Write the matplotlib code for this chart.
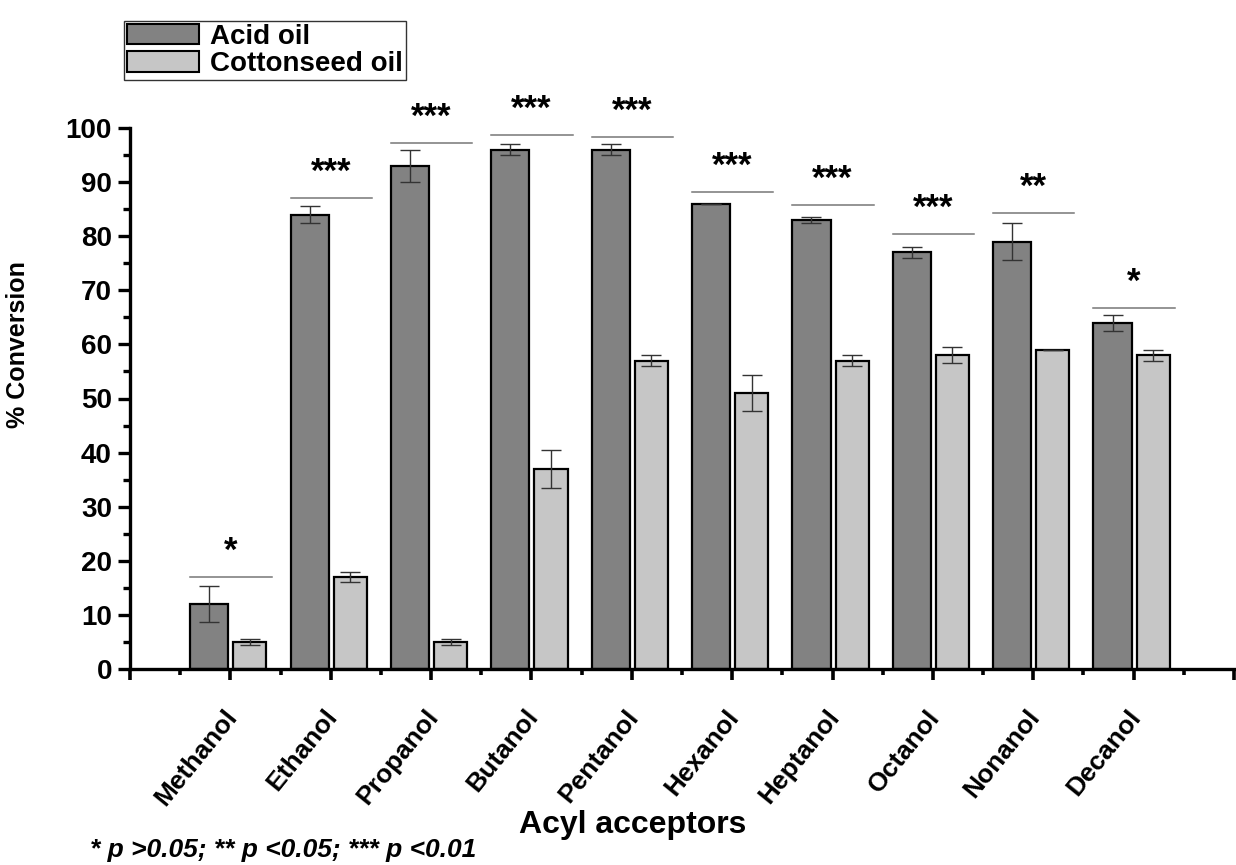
import numpy as np
import matplotlib
matplotlib.use("Agg")
import matplotlib.pyplot as plt
from matplotlib.ticker import MultipleLocator, FixedLocator
from matplotlib.transforms import ScaledTranslation
from matplotlib.patches import Patch

plt.rcParams['font.family'] = ['Liberation Sans', 'DejaVu Sans']

categories = ['Methanol', 'Ethanol', 'Propanol', 'Butanol', 'Pentanol',
              'Hexanol', 'Heptanol', 'Octanol', 'Nonanol', 'Decanol']
acid_oil = [12, 84, 93, 96, 96, 86, 83, 77, 79, 64]
acid_err = [3.4, 1.5, 3.0, 1.0, 1.0, 0, 0.5, 1.0, 3.4, 1.5]
cotton_oil = [5, 17, 5, 37, 57, 51, 57, 58, 59, 58]
cotton_err = [0.5, 1.0, 0.5, 3.5, 1.0, 3.4, 1.0, 1.5, 0, 1.0]
sig_level = [17.0, 87.0, 97.2, 98.7, 98.3, 88.2, 85.8, 80.4, 84.3, 66.7]
sig_marks = ['*', '***', '***', '***', '***', '***', '***', '***', '**', '*']
footnote = '* p >0.05; ** p <0.05; *** p <0.01'

dark = '#828282'
light = '#c6c6c6'

fig = plt.figure(figsize=(12.36, 8.65), dpi=100)
ax = fig.add_axes([130 / 1236, 1 - 669 / 865, 1104 / 1236, 541 / 865])

x = np.arange(1, len(categories) + 1)
err_kw = dict(ecolor='#333333', elinewidth=1.0, capsize=7, capthick=1.0)
ax.bar(x - 0.40, acid_oil, width=0.38, align='edge', color=dark,
       edgecolor='black', linewidth=1.6, zorder=2)
ax.bar(x + 0.03, cotton_oil, width=0.33, align='edge', color=light,
       edgecolor='black', linewidth=1.6, zorder=2)
ax.errorbar(x - 0.21, acid_oil, yerr=acid_err, fmt='none', zorder=3, **err_kw)
ax.errorbar(x + 0.195, cotton_oil, yerr=cotton_err, fmt='none', zorder=3, **err_kw)

# significance lines and stars
for xi, lvl, mark in zip(x, sig_level, sig_marks):
    ax.plot([xi - 0.40, xi + 0.41], [lvl, lvl], color='#777777', lw=1.1,
            clip_on=False, zorder=1)
    ax.text(xi, lvl + 3.0, mark, ha='center', va='baseline', fontsize=25,
            fontweight='bold', clip_on=False)

ax.set_xlim(0, 11)
ax.set_ylim(0, 100)
ax.xaxis.set_major_locator(FixedLocator(np.arange(0, 12)))
ax.xaxis.set_minor_locator(MultipleLocator(0.5))
ax.set_xticklabels([''] + categories + [''])
ax.yaxis.set_major_locator(MultipleLocator(10))
ax.yaxis.set_minor_locator(MultipleLocator(5))

for s in ['top', 'right']:
    ax.spines[s].set_visible(False)
for s in ['left', 'bottom']:
    ax.spines[s].set_linewidth(2.4)

ax.tick_params(axis='y', which='major', direction='out', length=9, width=2.4,
               labelsize=20, pad=4)
ax.tick_params(axis='y', which='minor', direction='out', length=5, width=2.4)
ax.tick_params(axis='x', which='major', direction='out', length=8, width=2.6,
               labelsize=19, pad=18)
ax.tick_params(axis='x', which='minor', direction='out', length=4, width=2.6)
for lab in ax.get_yticklabels():
    lab.set_fontweight('bold')
shift = ScaledTranslation(-7 / 100, 0, fig.dpi_scale_trans)
for lab in ax.get_xticklabels():
    lab.set_fontweight('bold')
    lab.set_rotation(51)
    lab.set_ha('right')
    lab.set_va('top')
    lab.set_rotation_mode('anchor')
    lab.set_transform(lab.get_transform() + shift)

ax.set_xlabel('Acyl acceptors', fontsize=23, fontweight='bold')
ax.xaxis.set_label_coords((633 - 130) / 1104, -(810 - 669) / 541)
ax.set_ylabel('% Conversion', fontsize=18, fontweight='bold')
ax.yaxis.set_label_coords(-(130 - 30) / 1104, (669 - 345) / 541)

handles = [Patch(facecolor=dark, edgecolor='black', linewidth=1.5, label='Acid oil'),
           Patch(facecolor=light, edgecolor='black', linewidth=1.5, label='Cottonseed oil')]
leg = fig.legend(handles=handles, loc='upper left',
                 bbox_to_anchor=(124 / 1236, 1 - 21 / 865),
                 prop={'weight': 'bold', 'size': 20}, frameon=True, fancybox=False,
                 handlelength=2.6, handleheight=0.75, handletextpad=0.4,
                 borderpad=0.1, labelspacing=0.05, borderaxespad=0)
leg.get_frame().set_edgecolor('black')
leg.get_frame().set_linewidth(1.0)

fig.text(90 / 1236, 1 - 850 / 865, footnote, fontsize=19, fontweight='bold',
         fontstyle='italic', ha='left', va='center')

fig.savefig('out.png', dpi=100, facecolor='white')
